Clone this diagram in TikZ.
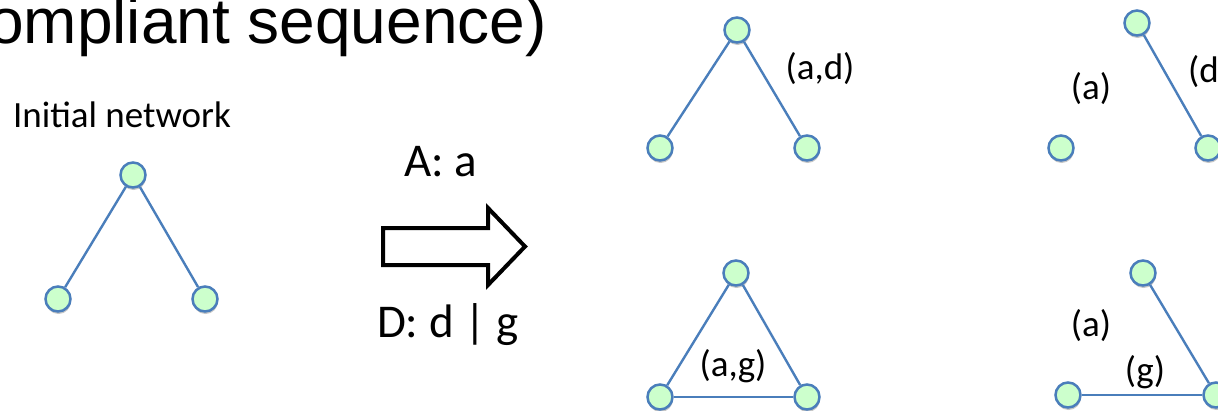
\documentclass[tikz,border=0pt]{standalone}
\usepackage{fontspec}
\setmainfont{Carlito}
\newfontfamily\titlefont{Liberation Sans}
\usetikzlibrary{shadows}
\definecolor{vblue}{RGB}{74,126,187}
\definecolor{vgreen}{RGB}{204,255,204}

\begin{document}
\begin{tikzpicture}[
  x=1pt, y=-1pt,
  vtx/.style={circle, draw=vblue, fill=vgreen, line width=2.5pt, minimum size=25pt, inner sep=0pt,
    drop shadow={shadow xshift=0.5pt, shadow yshift=-2.5pt, opacity=0.22, fill=black}},
  link/.style={draw=vblue, line width=2.4pt},
  lbl/.style={font=\fontsize{37}{40}\selectfont, inner sep=0pt},
  op/.style={font=\fontsize{47}{50}\selectfont, inner sep=0pt, anchor=base},
  blockarrow/.style={draw=black, line width=4pt, fill=white, line join=miter}]
\useasboundingbox (0,0) rectangle (1218,410);
\clip (0,0) rectangle (1218,410);
% ---------------- title (cut by the frame) ----------------
\node[font=\titlefont\fontsize{64}{68}\selectfont, anchor=base east, inner sep=0pt] (title) at (547,43) {ompliant sequence)};
% ---------------- initial network ----------------
\node[font=\fontsize{37}{40}\selectfont, inner sep=0pt] (initlbl) at (122,115) {Initial network};
\node[vtx] (i0) at (133,175) {};
\node[vtx] (i1) at (58,299) {};
\node[vtx] (i2) at (205,299) {};
\draw[link] (i0) -- (i1); \draw[link] (i0) -- (i2);
% ---------------- operation ----------------
\node[op] (add) at (441,176) {A: a};
\draw[blockarrow] (383,228) -- (488,228) -- (488,208) -- (525,246.5) -- (488,285) -- (488,265) -- (383,265) -- cycle;
\node[op] (del) at (448,337) {D: d | g};
% ---------------- results, middle column ----------------
\node[vtx] (ad0) at (737,30) {};
\node[vtx] (ad1) at (660,148) {};
\node[vtx] (ad2) at (807,148) {};
\draw[link] (ad0) -- (ad1); \draw[link] (ad0) -- (ad2);
\node[lbl] (adlbl) at (820,69) {(a,d)};
\node[vtx] (ag0) at (736,273) {};
\node[vtx] (ag1) at (660,397) {};
\node[vtx] (ag2) at (807,397) {};
\draw[link] (ag0) -- (ag1); \draw[link] (ag0) -- (ag2); \draw[link] (ag1) -- (ag2);
\node[lbl] (aglbl) at (733,366) {(a,g)};
% ---------------- results, right column ----------------
\node[vtx] (d0) at (1137,23) {};
\node[vtx] (d1) at (1061,148) {};
\node[vtx] (d2) at (1208,148) {};
\draw[link] (d0) -- (d2);
\node[lbl] (dalbl) at (1091,89) {(a)};
\node[lbl, anchor=west] (ddlbl) at (1188,72) {(d)};
\node[vtx] (g0) at (1143,273) {};
\node[vtx] (g1) at (1068,395) {};
\node[vtx] (g2) at (1216,395) {};
\draw[link] (g0) -- (g2); \draw[link] (g1) -- (g2);
\node[lbl] (galbl) at (1091,326) {(a)};
\node[lbl] (gglbl) at (1145,372) {(g)};
\end{tikzpicture}
\end{document}
